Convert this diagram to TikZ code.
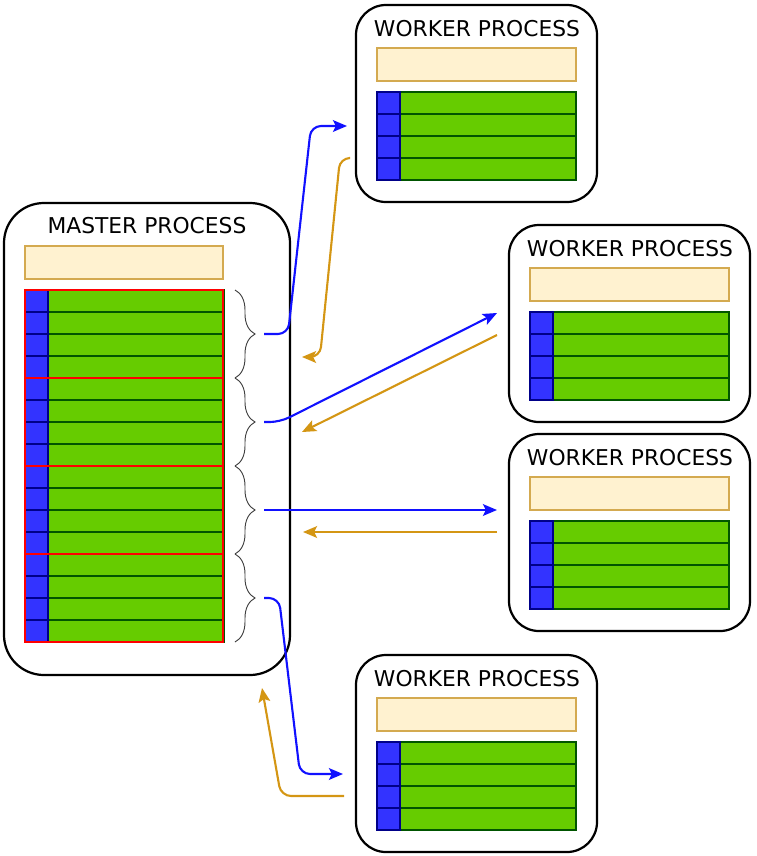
\documentclass[tikz,border=0pt]{standalone}
\usepackage{fontspec}
\setmainfont{DejaVu Sans}
\usetikzlibrary{arrows.meta,decorations.pathreplacing}

\definecolor{memfill}{RGB}{255,242,208}
\definecolor{memline}{RGB}{212,170,80}
\definecolor{rowgreen}{RGB}{102,204,0}
\definecolor{rowline}{RGB}{0,85,0}
\definecolor{keyblue}{RGB}{51,51,255}
\definecolor{keyline}{RGB}{0,0,136}
\definecolor{sendblue}{RGB}{17,17,255}
\definecolor{recvorange}{RGB}{212,150,20}

\tikzset{
  procbox/.style={draw, line width=1.9pt, rounded corners=0.9cm, minimum width=7.23cm, minimum height=5.91cm, inner sep=0},
  proctitle/.style={inner sep=0, font=\fontsize{18.6}{21}\selectfont},
  membox/.style={draw=memline, fill=memfill, line width=2pt, minimum width=5.97cm, minimum height=0.99cm, inner sep=0},
  rowcell/.style={draw=rowline, fill=rowgreen, line width=1.8pt},
  keycell/.style={draw=keyline, fill=keyblue, line width=1.8pt},
  group/.style={draw=red, line width=2pt},
  chunk/.style={decorate, decoration={brace, amplitude=0.6cm, aspect=0.5}, draw=black!75, line width=0.8pt},
  send/.style={draw=sendblue, line width=1.8pt, rounded corners=0.3cm, -{Stealth[length=12pt,width=10pt,inset=2.5pt]}},
  recv/.style={draw=recvorange, line width=1.8pt, rounded corners=0.3cm, -{Stealth[length=12pt,width=10pt,inset=2.5pt]}}
}

% rows of a data table: top-left x, top-left y, number of rows
\newcommand{\rowtable}[3]{%
  \foreach \r in {1,...,#3}{
    \draw[rowcell] ({#1+23},{#2+22*(\r-1)}) rectangle ({#1+199},{#2+22*\r});
    \draw[keycell] (#1,{#2+22*(\r-1)}) rectangle ({#1+23},{#2+22*\r});
  }}

% one worker: name, top-left x, top-left y
\newcommand{\worker}[3]{%
  \node[procbox] (#1) at ({#2+120.5},{#3+98.5}) {};
  \node[proctitle] (#1-title) at ({#2+121},{#3+23.5}) {WORKER PROCESS};
  \node[membox] (#1-mem) at ({#2+120.5},{#3+59.5}) {};
  \rowtable{#2+21}{#3+87}{4}
}

\begin{document}
\begin{tikzpicture}[x=0.03cm, y=-0.03cm]
\useasboundingbox (0,0) rectangle (757,856);

% master
\node[procbox, rounded corners=1.2cm, minimum width=8.58cm, minimum height=14.16cm] (master) at (147,439) {};
\node[proctitle] (master-title) at (147,226) {MASTER PROCESS};
\node[membox, minimum width=5.94cm] (master-mem) at (124,262.5) {};
\rowtable{25}{290}{16}
\foreach \g in {0,...,3}{
  \draw[group] (25,{290+88*\g}) rectangle (223,{378+88*\g});
  \draw[chunk] (235,{290+88*\g}) -- (235,{378+88*\g});
}
\coordinate (tip1) at (264,334);
\coordinate (tip2) at (264,422);
\coordinate (tip3) at (264,510);
\coordinate (tip4) at (264,598);

% workers
\worker{w1}{356}{5}
\worker{w2}{509}{225}
\worker{w3}{509}{434}
\worker{w4}{356}{655}

\coordinate (w1-in) at (347,126);
\coordinate (w1-out) at (349,158);
\coordinate (w2-in) at (497,313);
\coordinate (w2-out) at (497,335);
\coordinate (w3-in) at (497,510);
\coordinate (w3-out) at (497,532);
\coordinate (w4-in) at (343,774);
\coordinate (w4-out) at (344,796);
\coordinate (m1) at (302,357);
\coordinate (m2) at (302,432);
\coordinate (m3) at (303,532);
\coordinate (m4) at (262,688);

% messages
\draw[send] (tip1) -- (288,334) -- (311,126) -- (w1-in);
\draw[recv] (w1-out) -- (340,158) -- (320,357) -- (m1);
\draw[send] (tip2) -- (280,422) -- (w2-in);
\draw[recv] (w2-out) -- (m2);
\draw[send] (tip3) -- (w3-in);
\draw[recv] (w3-out) -- (m3);
\draw[send] (tip4) -- (279,598) -- (300,774) -- (w4-in);
\draw[recv] (w4-out) -- (281,796) -- (m4);
\end{tikzpicture}
\end{document}
